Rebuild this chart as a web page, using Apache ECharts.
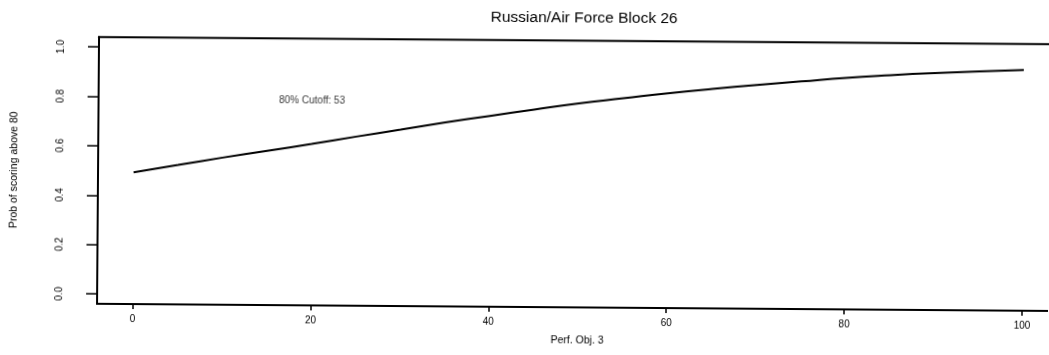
<!DOCTYPE html>
<html>
<head>
<meta charset="utf-8">
<script src="https://cdn.jsdelivr.net/npm/echarts@6/dist/echarts.min.js"></script>
<style>
  html, body { margin: 0; padding: 0; background: #fff; overflow: hidden; }
  #chart { width: 1049px; height: 355px; transform: rotate(0.43deg); transform-origin: 50% 50%; }
</style>
</head>
<body>
<div id="chart"></div>
<script>
// Probability curve for Perf. Obj. 3
const titleText = 'Russian/Air Force Block 26';
const xName = 'Perf. Obj. 3';
const yName = 'Prob of scoring above 80';

const perfScores = [0, 5, 10, 15, 20, 25, 30, 35, 40, 45, 50, 55, 60, 65, 70, 75, 80, 85, 90, 95, 100];
const probAbove80 = [0.494, 0.525, 0.556, 0.585, 0.614, 0.645, 0.675, 0.705, 0.733, 0.760, 0.786,
                     0.808, 0.830, 0.849, 0.866, 0.882, 0.898, 0.910, 0.920, 0.928, 0.935];

const xTicks = [0, 20, 40, 60, 80, 100];
const yTicks = [0, 0.2, 0.4, 0.6, 0.8, 1.0];

const cutoffNote = '80% Cutoff: 53';
const cutoffNoteAt = [20, 0.79];

const font = '"Liberation Sans", Arial, Helvetica, sans-serif';

const curve = perfScores.map((x, i) => [x, probAbove80[i]]);

const chart = echarts.init(document.getElementById('chart'), null, { renderer: 'canvas' });
chart.setOption({
  animation: false,
  backgroundColor: '#fff',
  title: {
    text: titleText,
    left: 578,
    top: 5,
    textAlign: 'center',
    textStyle: { fontFamily: font, fontSize: 15.5, fontWeight: 'normal', color: '#000' }
  },
  grid: {
    left: 98, top: 40.3, right: -9.6, bottom: 47.9,
    show: true, borderColor: '#000', borderWidth: 2,
    outerBoundsMode: 'none', containLabel: false
  },
  xAxis: {
    type: 'value', min: -4, max: 104,
    name: xName, nameLocation: 'middle', nameGap: 28,
    nameTextStyle: { fontFamily: font, fontSize: 10.5, color: '#000' },
    axisLine: { show: true, onZero: false, lineStyle: { color: '#000', width: 2 } },
    axisTick: { show: true, length: 5, customValues: xTicks, lineStyle: { color: '#000', width: 1.5 } },
    axisLabel: { customValues: xTicks, margin: 10, fontFamily: font, fontSize: 10, color: '#000' },
    splitLine: { show: false }
  },
  yAxis: {
    type: 'value', min: -0.04, max: 1.04,
    name: yName, nameLocation: 'middle', nameGap: 78,
    nameTextStyle: { fontFamily: font, fontSize: 10.5, color: '#000' },
    axisLine: { show: true, onZero: false, lineStyle: { color: '#000', width: 2 } },
    axisTick: { show: true, length: 11, customValues: yTicks, lineStyle: { color: '#000', width: 1.5 } },
    axisLabel: {
      customValues: yTicks, rotate: 90, margin: 33,
      fontFamily: font, fontSize: 10, color: '#000',
      formatter: v => Number(v).toFixed(1)
    },
    splitLine: { show: false }
  },
  series: [
    {
      type: 'line',
      data: curve,
      smooth: true,
      showSymbol: false,
      lineStyle: { color: '#000', width: 2 },
      silent: true
    },
    {
      type: 'scatter',
      data: [cutoffNoteAt],
      symbolSize: 0,
      silent: true,
      label: {
        show: true, position: 'inside',
        formatter: () => cutoffNote,
        fontFamily: font, fontSize: 10, color: '#000'
      }
    }
  ]
});
</script>
</body>
</html>
